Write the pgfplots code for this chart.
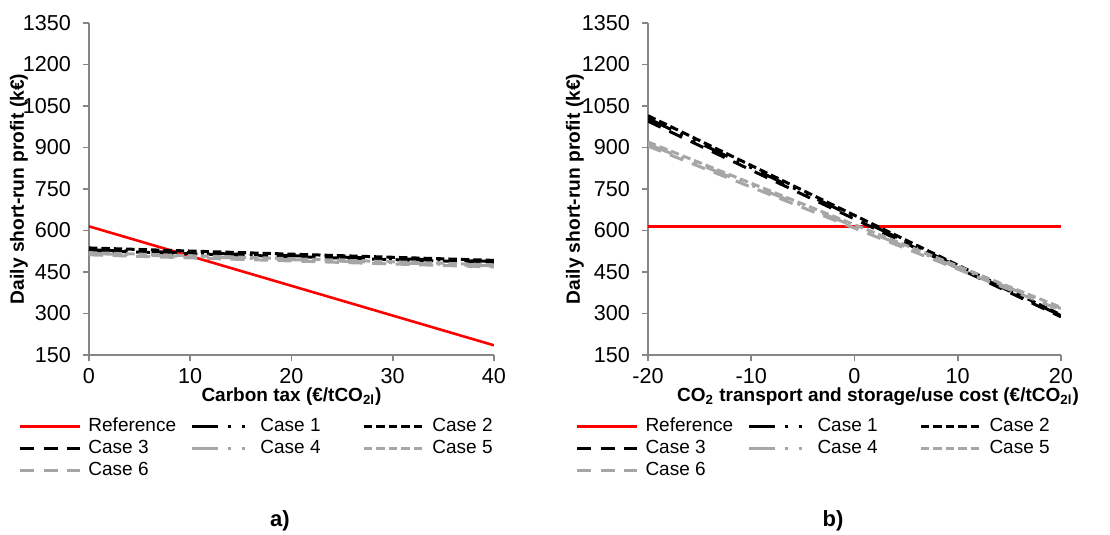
\documentclass[border=0pt]{standalone}
\usepackage{fontspec}
\setmainfont{Liberation Sans}
\usepackage{pgfplots}
\pgfplotsset{compat=1.18}
\definecolor{refred}{RGB}{255,0,0}
\definecolor{cgray}{RGB}{166,166,166}
\definecolor{axgray}{RGB}{134,134,134}
\pgfplotsset{
 myaxis/.style={
  scale only axis, axis lines*=left,
  axis line style={axgray, line width=1pt},
  tick style={axgray, line width=0.8pt},
  tick align=outside, major tick length=3pt,
  ymin=150, ymax=1350, ytick={150,300,...,1350},
  ticklabel style={font=\fontsize{10.8}{12}\selectfont},
  /pgf/number format/assume math mode=true,
  /pgf/number format/set thousands separator={},
  yticklabel style={xshift=-2.5pt},
  legend columns=3,
  legend cell align=left,
  legend style={draw=none, fill=none, anchor=north west,
    font=\fontsize{9.5}{11}\selectfont,
    /tikz/every odd column/.append style={column sep=3.5pt},
    nodes={inner sep=0pt, text height=7pt, text depth=2pt}, row sep=2pt},
  legend image code/.code={\draw[##1] (0pt,0pt) -- (30pt,0pt);},
 },
 refl/.style={refred, line width=1.3pt, solid},
 c1/.style={black, line width=1.5pt, dash pattern=on 12.8pt off 5pt on 1.5pt off 5.5pt on 1.5pt off 5pt},
 c2/.style={black, line width=1.5pt, dash pattern=on 4.2pt off 2pt},
 c3/.style={black, line width=1.5pt, dash pattern=on 7pt off 4.8pt},
 c4/.style={cgray, line width=1.5pt, dash pattern=on 12.8pt off 5pt on 1.5pt off 5.5pt on 1.5pt off 5pt},
 c5/.style={cgray, line width=1.5pt, dash pattern=on 4.2pt off 2pt},
 c6/.style={cgray, line width=1.5pt, dash pattern=on 7pt off 4.8pt},
}
\newcommand{\lgE}[1]{\makebox[51pt][l]{#1}}
\begin{document}
\begin{tikzpicture}
\useasboundingbox (0,0) rectangle (555pt,-267.5pt);
\begin{axis}[myaxis, at={(44.5pt,-177.5pt)}, anchor=south west,
  width=202.5pt, height=166pt,
  xmin=0, xmax=40, xtick={0,10,...,40},
  xlabel={Carbon tax (€/tCO\textsubscript{2l})},
  ylabel={Daily short-run profit (k€)},
  every axis x label/.style={at={(axis description cs:0.5,-0.125)}, anchor=center, font=\bfseries\fontsize{9.5}{11}\selectfont},
  every axis y label/.style={at={(axis description cs:-0.173,0.5)}, rotate=90, anchor=center, font=\bfseries\fontsize{9.6}{11}\selectfont},
  legend style={at={(-0.19,-0.175)}}]
\addplot[refl] coordinates {(0,615) (40,185)}; \addlegendentry{\lgE{Reference}}
\addplot[c1] coordinates {(0,530) (40,488)}; \addlegendentry{\lgE{Case 1}}
\addplot[c2] coordinates {(0,537) (40,492)}; \addlegendentry{\lgE{Case 2}}
\addplot[c3] coordinates {(0,527) (40,484)}; \addlegendentry{\lgE{Case 3}}
\addplot[c4] coordinates {(0,517) (40,472)}; \addlegendentry{\lgE{Case 4}}
\addplot[c5] coordinates {(0,520) (40,476)}; \addlegendentry{\lgE{Case 5}}
\addplot[c6] coordinates {(0,512) (40,468)}; \addlegendentry{\lgE{Case 6}}
\end{axis}
\begin{axis}[myaxis, at={(324pt,-177.5pt)}, anchor=south west,
  width=206.5pt, height=166pt,
  xmin=-20, xmax=20, xtick={-20,-10,...,20},
  xlabel={CO\textsubscript{2} transport and storage/use cost (€/tCO\textsubscript{2l})},
  ylabel={Daily short-run profit (k€)},
  every axis x label/.style={at={(axis description cs:0.557,-0.125)}, anchor=center, font=\bfseries\fontsize{9.5}{11}\selectfont},
  every axis y label/.style={at={(axis description cs:-0.177,0.5)}, rotate=90, anchor=center, font=\bfseries\fontsize{9.6}{11}\selectfont},
  legend style={at={(-0.191,-0.175)}}]
\addplot[refl] coordinates {(-20,615) (20,615)}; \addlegendentry{\lgE{Reference}}
\addplot[c1] coordinates {(-20,1005) (20,292)}; \addlegendentry{\lgE{Case 1}}
\addplot[c2] coordinates {(-20,1015) (20,295)}; \addlegendentry{\lgE{Case 2}}
\addplot[c3] coordinates {(-20,995) (20,288)}; \addlegendentry{\lgE{Case 3}}
\addplot[c4] coordinates {(-20,912) (20,318)}; \addlegendentry{\lgE{Case 4}}
\addplot[c5] coordinates {(-20,920) (20,322)}; \addlegendentry{\lgE{Case 5}}
\addplot[c6] coordinates {(-20,905) (20,312)}; \addlegendentry{\lgE{Case 6}}
\end{axis}
\node[font=\bfseries\fontsize{11}{13}\selectfont] at (140pt,-260.5pt) {a)};
\node[font=\bfseries\fontsize{11}{13}\selectfont] at (416.5pt,-260.5pt) {b)};
\end{tikzpicture}
\end{document}
